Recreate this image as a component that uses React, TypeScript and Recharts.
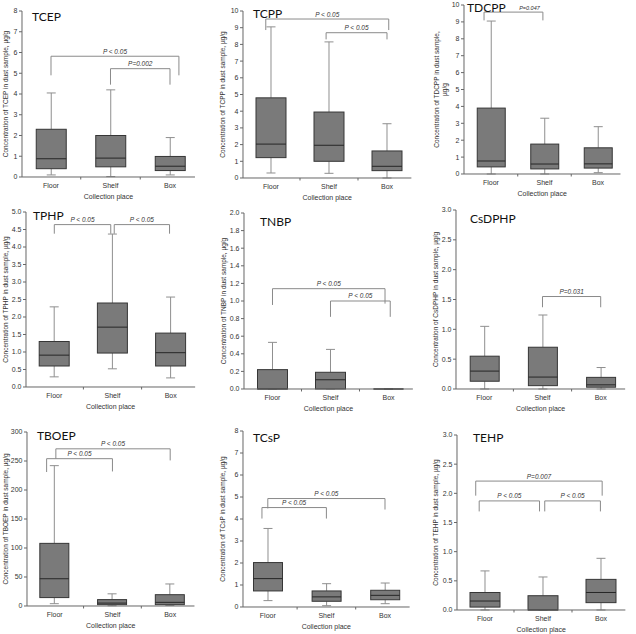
import React from "react";
import { ComposedChart, Bar, XAxis, YAxis, ReferenceLine } from "recharts";

const places = ["Floor", "Shelf", "Box"];
const placePos = [1, 2, 3];

// five-number summaries per place, µg/g: [min, q1, median, q3, max]
const tcep = [[0.1, 0.4, 0.88, 2.3, 4.05], [0.02, 0.49, 0.91, 2.0, 4.2], [0.1, 0.31, 0.52, 0.99, 1.9]];
const tcpp = [[0.3, 1.22, 2.03, 4.8, 9.05], [0.28, 1.0, 1.96, 3.95, 8.15], [0, 0.44, 0.7, 1.62, 3.25]];
const tdcpp = [[0, 0.42, 0.77, 3.9, 9.05], [0, 0.3, 0.59, 1.77, 3.3], [0.08, 0.35, 0.6, 1.55, 2.8]];
const tphp = [[0.29, 0.6, 0.91, 1.3, 2.29], [0.52, 0.97, 1.71, 2.4, 4.37], [0.26, 0.6, 0.98, 1.54, 2.57]];
const tnbp = [[0, 0, 0, 0.22, 0.53], [0, 0, 0.105, 0.19, 0.45], [0, 0, 0, 0, 0]];
const csdphp = [[0, 0.13, 0.3, 0.55, 1.05], [0, 0.056, 0.2, 0.7, 1.24], [0, 0.03, 0.07, 0.195, 0.36]];
const tboep = [[4, 14.5, 47, 108, 242], [0.5, 2.3, 5, 11, 21], [1, 2.3, 6.3, 19.5, 38]];
const tcsp = [[0.29, 0.73, 1.29, 2.02, 3.57], [0.06, 0.26, 0.46, 0.73, 1.06], [0.15, 0.33, 0.53, 0.76, 1.09]];
const tehp = [[0, 0.05, 0.154, 0.3, 0.67], [0, 0, 0, 0.245, 0.566], [0, 0.126, 0.3, 0.525, 0.886]];

// y-axis tick labels
const ticks0to8 = [0, 1, 2, 3, 4, 5, 6, 7, 8];
const ticks0to10 = [0, 1, 2, 3, 4, 5, 6, 7, 8, 9, 10];
const ticksTphp = [0, 0.5, 1, 1.5, 2, 2.5, 3, 3.5, 4, 4.5, 5];
const ticksTnbp = [0, 0.2, 0.4, 0.6, 0.8, 1, 1.2, 1.4, 1.6, 1.8, 2];
const ticks0to3 = [0, 0.5, 1, 1.5, 2, 2.5, 3];
const ticksTboep = [0, 50, 100, 150, 200, 250, 300];

type Bracket = { from: number; to: number; y: number; left: number; right: number; text: string; shift?: number; size?: number };

// significance brackets: place span, bar height, leg ends
const tcepBrackets: Bracket[] = [
  { from: 1, to: 3.15, y: 5.82, left: 4.9, right: 4.9, text: "P < 0.05" },
  { from: 2, to: 3, y: 5.22, left: 4.45, right: 4.45, text: "P=0.002" },
];
const tcppBrackets: Bracket[] = [
  { from: 0.91, to: 3.03, y: 9.52, left: 8.86, right: 8.86, text: "P < 0.05" },
  { from: 1.95, to: 3, y: 8.7, left: 8.3, right: 8.3, text: "P < 0.05" },
];
const tdcppBrackets: Bracket[] = [
  { from: 0.87, to: 1.97, y: 9.58, left: 9.09, right: 9.09, text: "P=0.047", shift: 16, size: 5.5 },
];
const tphpBrackets: Bracket[] = [
  { from: 1, to: 1.97, y: 4.64, left: 4.38, right: 4.38, text: "P < 0.05" },
  { from: 2.03, to: 2.98, y: 4.64, left: 4.38, right: 4.38, text: "P < 0.05" },
];
const tnbpBrackets: Bracket[] = [
  { from: 1, to: 2.94, y: 1.14, left: 0.955, right: 0.97, text: "P < 0.05" },
  { from: 2, to: 3.03, y: 1.0, left: 0.82, right: 0.82, text: "P < 0.05" },
];
const csdphpBrackets: Bracket[] = [
  { from: 2, to: 3, y: 1.55, left: 1.37, right: 1.37, text: "P=0.031" },
];
const tboepBrackets: Bracket[] = [
  { from: 0.86, to: 2, y: 254, left: 231, right: 232, text: "P < 0.05" },
  { from: 1.02, to: 3, y: 271, left: 254, right: 251, text: "P < 0.05" },
];
const tcspBrackets: Bracket[] = [
  { from: 0.9, to: 2, y: 4.52, left: 4.02, right: 4.02, text: "P < 0.05" },
  { from: 1, to: 3, y: 4.93, left: 4.48, right: 4.43, text: "P < 0.05" },
];
const tehpBrackets: Bracket[] = [
  { from: 0.84, to: 3.02, y: 2.21, left: 1.96, right: 1.96, text: "P=0.007" },
  { from: 0.9, to: 1.94, y: 1.87, left: 1.69, right: 1.69, text: "P < 0.05" },
  { from: 2.03, to: 2.99, y: 1.87, left: 1.69, right: 1.69, text: "P < 0.05" },
];

const BOX_FILL = "#7a7a7a";
const BOX_EDGE = "#363636";
const WHISKER = "#8f8f8f";
const BRACKET = "#8a8a8a";
const TEXT = "#333";

const panels = [
  { title: "TCEP", data: tcep, ticks: ticks0to8, dec: 0, brackets: tcepBrackets, yLabel: ["Concentration of TCEP in dust sample, µg/g"], col: 0, axisX: 22, p1: 51, s: 59.5, yTop: 11, yBottom: 177, gap: 16, boxW: 30, tx: 32, ty: 16 },
  { title: "TCPP", data: tcpp, ticks: ticks0to10, dec: 0, brackets: tcppBrackets, yLabel: ["Concentration of TCPP in dust sample, µg/g"], col: 212, axisX: 243, p1: 271, s: 58, yTop: 11, yBottom: 178, gap: 20, boxW: 30, tx: 253, ty: 13 },
  { title: "TDCPP", data: tdcpp, ticks: ticks0to10, dec: 0, brackets: tdcppBrackets, yLabel: ["Concentration of TDCPP in dust sample,", "µg/g"], col: 424, axisX: 464, p1: 491, s: 53.5, yTop: 5, yBottom: 174, gap: 23, boxW: 28, tx: 467, ty: 7 },
  { title: "TPHP", data: tphp, ticks: ticksTphp, dec: 1, brackets: tphpBrackets, yLabel: ["Concentration of TPHP in dust sample, µg/g"], col: 0, axisX: 26, p1: 54.3, s: 58.2, yTop: 212, yBottom: 387, gap: 20, boxW: 30, tx: 33, ty: 215 },
  { title: "TNBP", data: tnbp, ticks: ticksTnbp, dec: 1, brackets: tnbpBrackets, yLabel: ["Concentration of TNBP in dust sample, µg/g"], col: 212, axisX: 244, p1: 272.5, s: 58, yTop: 213, yBottom: 389, gap: 20, boxW: 30, tx: 260, ty: 221 },
  { title: "CsDPHP", data: csdphp, ticks: ticks0to3, dec: 1, brackets: csdphpBrackets, yLabel: ["Concentration of CsDPHP in dust sample, µg/g"], col: 424, axisX: 456, p1: 484.3, s: 58.2, yTop: 210, yBottom: 389, gap: 20, boxW: 29, tx: 470, ty: 218 },
  { title: "TBOEP", data: tboep, ticks: ticksTboep, dec: 0, brackets: tboepBrackets, yLabel: ["Concentration of TBOEP in dust sample, µg/g"], col: 0, axisX: 27, p1: 54.7, s: 57.75, yTop: 432, yBottom: 606, gap: 21, boxW: 29, tx: 37, ty: 435 },
  { title: "TCsP", data: tcsp, ticks: ticks0to8, dec: 0, brackets: tcspBrackets, yLabel: ["Concentration of TCsP in dust sample, µg/g"], col: 212, axisX: 243, p1: 267.8, s: 58.6, yTop: 431, yBottom: 607, gap: 20, boxW: 29, tx: 253, ty: 437 },
  { title: "TEHP", data: tehp, ticks: ticks0to3, dec: 1, brackets: tehpBrackets, yLabel: ["Concentration of TEHP in dust sample, µg/g"], col: 424, axisX: 457, p1: 485, s: 58, yTop: 435, yBottom: 610, gap: 21, boxW: 30, tx: 473, ty: 437 },
];

// the bar spans the whole y domain, so its rect gives the value-to-pixel mapping
function BoxGlyph(props: any) {
  const { x, y, width, height, payload, yMax } = props;
  const [mn, q1, md, q3, mx] = payload.stats as number[];
  const py = (v: number) => y + height * (1 - v / yMax);
  const cx = x + width / 2;
  const cap = 4.5;
  const top = py(q3);
  const bottom = py(q1);
  return (
    <g>
      <line x1={cx} x2={cx} y1={py(mx)} y2={top} stroke={WHISKER} />
      <line x1={cx} x2={cx} y1={bottom} y2={py(mn)} stroke={WHISKER} />
      <line x1={cx - cap} x2={cx + cap} y1={py(mx)} y2={py(mx)} stroke={WHISKER} />
      <line x1={cx - cap} x2={cx + cap} y1={py(mn)} y2={py(mn)} stroke={WHISKER} />
      {bottom - top > 0.5 ? (
        <rect x={x} y={top} width={width} height={bottom - top} fill={BOX_FILL} stroke={BOX_EDGE} strokeWidth={1} />
      ) : (
        <line x1={x} x2={x + width} y1={top} y2={top} stroke={BOX_EDGE} />
      )}
      <line x1={x} x2={x + width} y1={py(md)} y2={py(md)} stroke="#262626" strokeWidth={1} />
    </g>
  );
}

function PlaceTick(props: any) {
  const { x, y, payload } = props;
  const v = payload.value as number;
  if (Number.isInteger(v)) {
    return (
      <text x={x} y={y + 8.5} textAnchor="middle" dominantBaseline="central" fontSize={7} fill={TEXT}>
        {places[v - 1]}
      </text>
    );
  }
  return <line x1={x} x2={x} y1={y} y2={y + 2.5} stroke="#666" />;
}

const pLabel = (b: Bracket) => (props: any) => {
  const vb = props.viewBox;
  return (
    <text
      x={vb.x + vb.width / 2 + (b.shift ?? 0)}
      y={vb.y - 2.5}
      textAnchor="middle"
      fontSize={b.size ?? 6.5}
      fontStyle="italic"
      fill={TEXT}
    >
      {b.text}
    </text>
  );
};

const axisTitle = (lines: string[], gap: number) => (props: any) => {
  const vb = props.viewBox;
  const cx = vb.x + vb.width - gap;
  const cy = vb.y + vb.height / 2;
  const step = 8;
  return (
    <text transform={`rotate(-90 ${cx} ${cy})`} textAnchor="middle" fontSize={6.5} fill={TEXT}>
      {lines.map((l, i) => (
        <tspan key={i} x={cx} y={cy + (i - (lines.length - 1) / 2) * step} dominantBaseline="central">
          {l}
        </tspan>
      ))}
    </text>
  );
};

function Panel({ cfg }: { cfg: (typeof panels)[number] }) {
  const yMax = cfg.ticks[cfg.ticks.length - 1];
  const yAxisW = cfg.axisX - cfg.col;
  const xLo = 1 - (cfg.p1 - cfg.axisX) / cfg.s;
  const xHi = 3.42;
  const plotW = (xHi - xLo) * cfg.s;
  const mt = 8;
  const xAxisH = 34;
  const width = yAxisW + plotW + 4;
  const height = mt + (cfg.yBottom - cfg.yTop) + xAxisH;
  const rows = places.map((name, i) => ({ name, pos: placePos[i], stats: cfg.data[i], span: [0, yMax] }));

  return (
    <div style={{ position: "absolute", left: cfg.col, top: cfg.yTop - mt }}>
      <ComposedChart width={width} height={height} data={rows} margin={{ top: mt, right: 4, bottom: 0, left: 0 }}>
        <XAxis
          dataKey="pos"
          type="number"
          domain={[xLo, xHi]}
          allowDataOverflow
          ticks={[1, 1.5, 2, 2.5, 3]}
          interval={0}
          tickSize={0}
          tickMargin={0}
          tick={<PlaceTick />}
          height={xAxisH}
          stroke="#666"
          label={{ value: "Collection place", position: "insideBottom", offset: 12, fontSize: 7, fill: TEXT }}
        />
        <YAxis
          type="number"
          domain={[0, yMax]}
          ticks={cfg.ticks}
          interval={0}
          width={yAxisW}
          tickSize={3}
          tickMargin={1.5}
          stroke="#666"
          tick={{ fontSize: 7, fill: TEXT }}
          tickFormatter={(v: number) => v.toFixed(cfg.dec)}
          label={axisTitle(cfg.yLabel, cfg.gap)}
        />
        <Bar
          dataKey="span"
          barSize={cfg.boxW}
          isAnimationActive={false}
          shape={(p: any) => <BoxGlyph {...p} yMax={yMax} />}
        />
        {cfg.brackets.flatMap((b, i) => [
          <ReferenceLine key={`h${i}`} segment={[{ x: b.from, y: b.y }, { x: b.to, y: b.y }]} stroke={BRACKET} label={pLabel(b)} />,
          <ReferenceLine key={`l${i}`} segment={[{ x: b.from, y: b.y }, { x: b.from, y: b.left }]} stroke={BRACKET} />,
          <ReferenceLine key={`r${i}`} segment={[{ x: b.to, y: b.y }, { x: b.to, y: b.right }]} stroke={BRACKET} />,
        ])}
      </ComposedChart>
    </div>
  );
}

export default function App() {
  return (
    <div
      style={{
        position: "absolute",
        left: 0,
        top: 0,
        width: 636,
        height: 634,
        background: "#fff",
        overflow: "hidden",
        fontFamily: "'Liberation Sans', Arial, sans-serif",
      }}
    >
      {panels.map((p) => (
        <Panel key={p.title} cfg={p} />
      ))}
      <svg width={636} height={634} style={{ position: "absolute", left: 0, top: 0, pointerEvents: "none" }}>
        {panels.map((p) => (
          <text key={p.title} x={p.tx} y={p.ty} dominantBaseline="central" fontSize={12} fontFamily="Lato, 'Open Sans', sans-serif" fill="#111">
            {p.title}
          </text>
        ))}
      </svg>
    </div>
  );
}
